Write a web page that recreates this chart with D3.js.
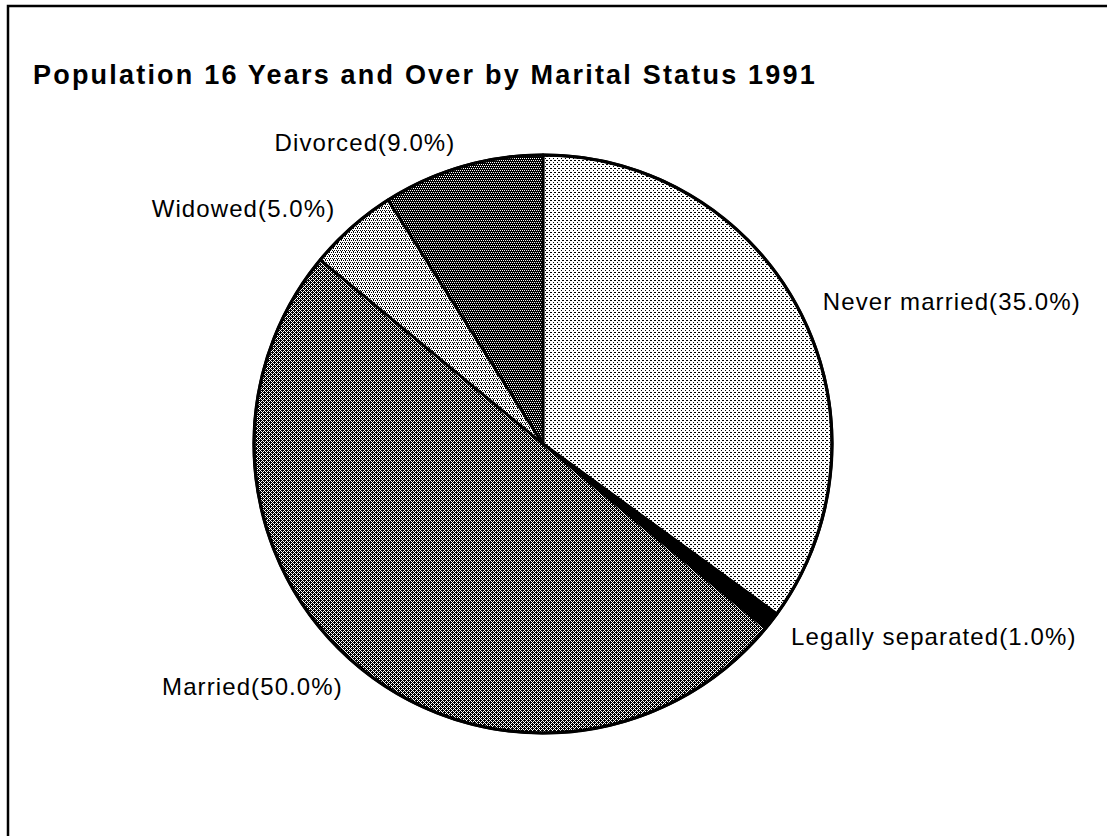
<!DOCTYPE html>
<html>
<head>
<meta charset="utf-8">
<script src="https://cdn.jsdelivr.net/npm/d3@7"></script>
<style>
  html, body { margin: 0; padding: 0; background: #fff; }
  svg { display: block; }
</style>
</head>
<body>
<svg id="chart" width="1107" height="836"></svg>
<script>
const title = "Population 16 Years and Over by Marital Status 1991";
const categories = ["Never married", "Legally separated", "Married", "Widowed", "Divorced"];
const values = [35.0, 1.0, 50.0, 5.0, 9.0];
const patternNames = ["light", "solid", "married", "widowed", "divorced"];

const W = 1107, H = 836;
const cx = 543, cy = 444, R = 289, labelR = R + 25;

const svg = d3.select("#chart");
const defs = svg.append("defs");

// dithered fills as pixel patterns
const patternDefs = {
  light:    { size: 4, bg: "#fff", fg: "#000", px: [[0,0],[2,2],[3,0]] },
  widowed:  { size: 4, bg: "#fff", fg: "#000", px: [[0,0],[2,0],[1,2],[3,2],[2,3]] },
  divorced: { size: 4, bg: "#000", fg: "#fff", px: [[0,0],[2,0],[1,2],[3,2]] },
  married:  { size: 4, bg: "#fff", fg: "#000", px: [[0,0],[2,0],[1,1],[3,1],[0,2],[2,2],[1,3],[3,3],[1,0],[3,2]] },
  solid:    { size: 2, bg: "#000", fg: "#000", px: [] }
};
Object.entries(patternDefs).forEach(([name, p]) => {
  const pat = defs.append("pattern")
    .attr("id", "pat-" + name)
    .attr("patternUnits", "userSpaceOnUse")
    .attr("width", p.size).attr("height", p.size);
  pat.append("rect").attr("width", p.size).attr("height", p.size).attr("fill", p.bg);
  p.px.forEach(([x, y]) => pat.append("rect")
    .attr("x", x).attr("y", y).attr("width", 1).attr("height", 1)
    .attr("fill", p.fg).attr("shape-rendering", "crispEdges"));
});

// frame (top and left edges)
svg.append("path")
  .attr("d", `M8,${H} V6 H${W}`)
  .attr("fill", "none").attr("stroke", "#000").attr("stroke-width", 2.5);

svg.append("text")
  .attr("x", 33).attr("y", 84)
  .attr("font-family", "'Liberation Sans', Arial, Helvetica, sans-serif")
  .attr("font-weight", "bold")
  .attr("font-size", 27)
  .attr("letter-spacing", 2.2)
  .attr("fill", "#000")
  .text(title);

const data = categories.map((c, i) => ({ name: c, value: values[i], pat: patternNames[i] }));
const pie = d3.pie().sort(null).value(d => d.value).startAngle(0).endAngle(2 * Math.PI);
const arcs = pie(data);
const arc = d3.arc().innerRadius(0).outerRadius(R);

const g = svg.append("g").attr("transform", `translate(${cx},${cy})`);
g.selectAll("path.slice").data(arcs).join("path")
  .attr("class", "slice")
  .attr("d", arc)
  .attr("fill", d => `url(#pat-${d.data.pat})`)
  .attr("stroke", "#000")
  .attr("stroke-width", 2.8)
  .attr("stroke-linejoin", "round");

g.append("circle").attr("r", R).attr("fill", "none").attr("stroke", "#000").attr("stroke-width", 3.2);

g.selectAll("text.lbl").data(arcs).join("text")
  .attr("class", "lbl")
  .each(function(d) {
    const a = (d.startAngle + d.endAngle) / 2;
    const x = Math.sin(a) * labelR, y = -Math.cos(a) * labelR;
    d3.select(this)
      .attr("x", x).attr("y", y)
      .attr("dy", "0.36em")
      .attr("text-anchor", Math.sin(a) >= 0 ? "start" : "end");
  })
  .attr("font-family", "'Liberation Sans', Arial, Helvetica, sans-serif")
  .attr("font-size", 24)
  .attr("letter-spacing", 1.1)
  .attr("fill", "#000")
  .text(d => `${d.data.name}(${d.data.value.toFixed(1)}%)`);
</script>
</body>
</html>
